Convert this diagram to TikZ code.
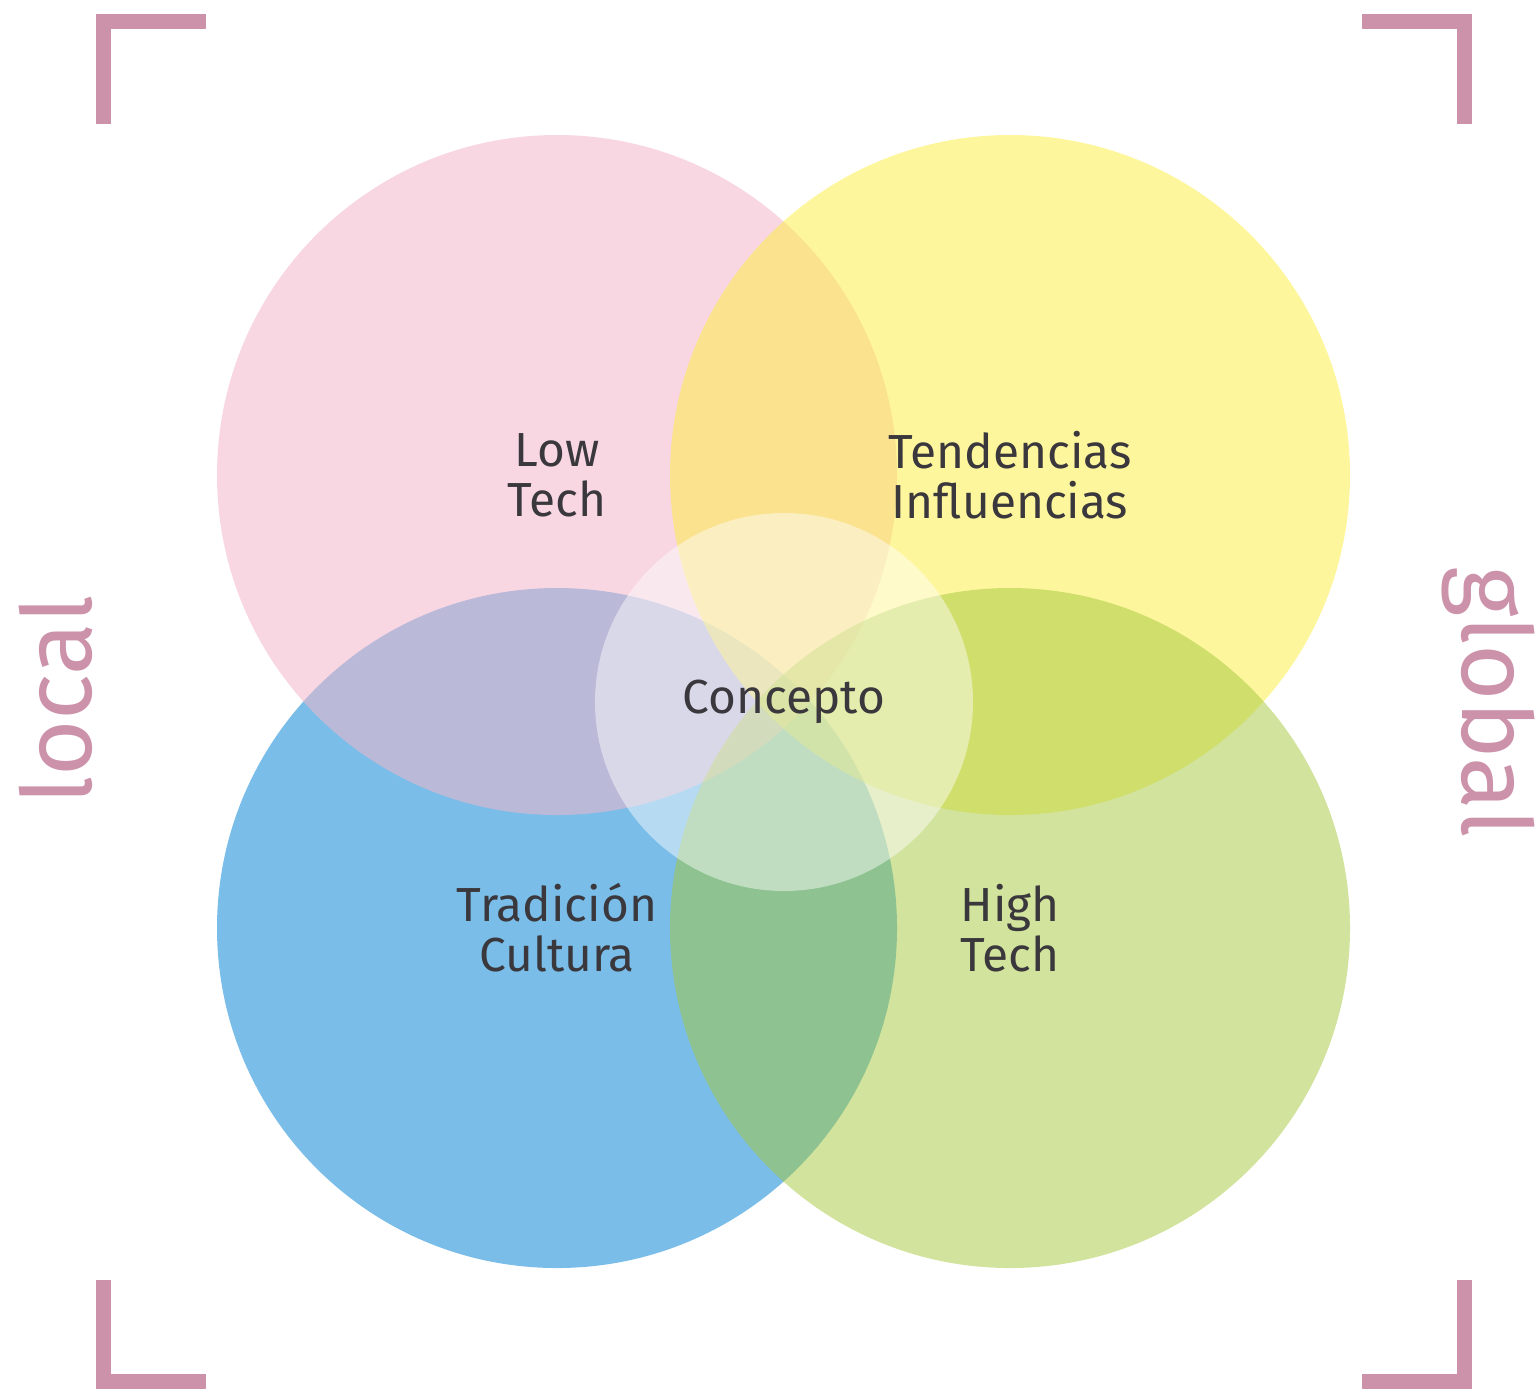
\documentclass[tikz,border=0pt]{standalone}
\usepackage{fontspec}
\setmainfont{Fira Sans}
\usepackage{tikz}
\definecolor{pinkc}{RGB}{242,182,204}
\definecolor{yellowc}{RGB}{252,238,60}
\definecolor{bluec}{RGB}{122,189,232}
\definecolor{greenc}{RGB}{163,199,57}
\definecolor{mauve}{RGB}{204,146,170}
\definecolor{txt}{RGB}{58,56,60}
\begin{document}
\begin{tikzpicture}[x=1cm, y=1cm,
        blob/.style={fill opacity=0.5},
        lbl/.style={align=center, text=txt, font=\fontsize{13.6}{14.2}\selectfont, inner sep=0pt},
        side/.style={text=mauve, font=\fontsize{27.5}{28}\selectfont, inner sep=0pt},
        bracket/.style={draw=mauve, line width=0.15cm}]
                        \useasboundingbox (0, 0) rectangle (15.37, -13.91);
                        \fill[color=bluec] (5.57, -9.28) circle (3.40);
                        \fill[color=pinkc, fill opacity=0.55] (5.57, -4.75) circle (3.40);
                        \fill[color=yellowc, blob] (10.10, -4.75) circle (3.40);
                        \fill[color=greenc, blob] (10.10, -9.28) circle (3.40);
                        \fill[color=white, fill opacity=0.45] (7.84, -7.02) circle (1.89);
                        \draw[bracket] (1.035, -1.235) -- (1.035, -0.215) -- (2.055, -0.215);
                        \draw[bracket] (13.62, -0.215) -- (14.645, -0.215) -- (14.645, -1.235);
                        \draw[bracket] (1.035, -12.80) -- (1.035, -13.815) -- (2.06, -13.815);
                        \draw[bracket] (13.62, -13.815) -- (14.645, -13.815) -- (14.645, -12.80);
                        \node[lbl] (low) at (5.57, -4.75){Low\\Tech};
                        \node[lbl] (tend) at (10.10, -4.75){Tendencias\\Influencias};
                        \node[lbl] (trad) at (5.57, -9.28){Tradición\\Cultura};
                        \node[lbl] (high) at (10.10, -9.28){High\\Tech};
                        \node[lbl] (conc) at (7.84, -7.02){Concepto};
                        \node[side, rotate=90] (loc) at (0.56, -7.00){local};
                        \node[side, rotate=-90] (glob) at (14.88, -7.02){global};
                \end{tikzpicture}
\end{document}
